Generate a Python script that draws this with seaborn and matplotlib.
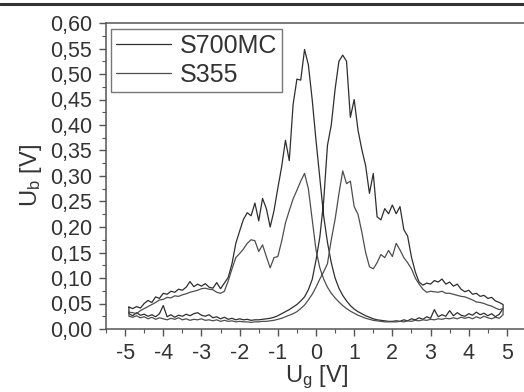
import pandas as pd
import matplotlib.pyplot as plt
import seaborn as sns
from matplotlib.lines import Line2D
from matplotlib.ticker import MultipleLocator, FuncFormatter

# gate voltage sweep grid [V]
u_g = [-4.9, -4.8, -4.7, -4.6, -4.5, -4.4, -4.3, -4.2, -4.1, -4.0,
       -3.9, -3.8, -3.7, -3.6, -3.5, -3.4, -3.3, -3.2, -3.1, -3.0,
       -2.9, -2.8, -2.7, -2.6, -2.5, -2.4, -2.3, -2.2, -2.1, -2.0,
       -1.9, -1.8, -1.7, -1.6, -1.5, -1.4, -1.3, -1.2, -1.1, -1.0,
       -0.9, -0.8, -0.7, -0.6, -0.5, -0.4, -0.3, -0.2, -0.1, 0.0,
       0.1, 0.2, 0.3, 0.4, 0.5, 0.6, 0.7, 0.8, 0.9, 1.0,
       1.1, 1.2, 1.3, 1.4, 1.5, 1.6, 1.7, 1.8, 1.9, 2.0,
       2.1, 2.2, 2.3, 2.4, 2.5, 2.6, 2.7, 2.8, 2.9, 3.0,
       3.1, 3.2, 3.3, 3.4, 3.5, 3.6, 3.7, 3.8, 3.9, 4.0,
       4.1, 4.2, 4.3, 4.4, 4.5, 4.6, 4.7, 4.8, 4.9]

# S700MC, sweep up (-5 -> 5)
s700_up = [0.043, 0.040, 0.044, 0.041, 0.050, 0.056, 0.052, 0.063, 0.060, 0.070,
           0.068, 0.074, 0.072, 0.078, 0.076, 0.082, 0.093, 0.083, 0.088, 0.084,
           0.089, 0.082, 0.080, 0.091, 0.079, 0.090, 0.101, 0.128, 0.168, 0.192,
           0.215, 0.228, 0.222, 0.247, 0.212, 0.256, 0.236, 0.200, 0.232, 0.276,
           0.318, 0.370, 0.330, 0.440, 0.490, 0.488, 0.548, 0.518, 0.450, 0.370,
           0.295, 0.222, 0.170, 0.130, 0.100, 0.080, 0.066, 0.055, 0.046, 0.039,
           0.034, 0.030, 0.026, 0.023, 0.020, 0.018, 0.017, 0.016, 0.015, 0.015,
           0.016, 0.015, 0.018, 0.016, 0.020, 0.018, 0.022, 0.019, 0.024, 0.021,
           0.038, 0.024, 0.028, 0.025, 0.036, 0.026, 0.032, 0.027, 0.025, 0.030,
           0.027, 0.033, 0.028, 0.031, 0.026, 0.030, 0.024, 0.029, 0.040]

# S700MC, sweep down (5 -> -5), listed on the same grid
s700_down = [0.030, 0.026, 0.032, 0.027, 0.029, 0.025, 0.028, 0.024, 0.030, 0.046,
             0.024, 0.028, 0.023, 0.027, 0.025, 0.029, 0.026, 0.030, 0.032, 0.027,
             0.025, 0.028, 0.022, 0.024, 0.020, 0.023, 0.019, 0.021, 0.018, 0.020,
             0.018, 0.019, 0.017, 0.018, 0.018, 0.019, 0.020, 0.021, 0.023, 0.026,
             0.030, 0.034, 0.038, 0.043, 0.048, 0.055, 0.063, 0.077, 0.097, 0.135,
             0.180, 0.250, 0.360, 0.400, 0.470, 0.525, 0.537, 0.525, 0.415, 0.450,
             0.390, 0.352, 0.320, 0.266, 0.305, 0.220, 0.214, 0.236, 0.226, 0.243,
             0.226, 0.240, 0.195, 0.182, 0.141, 0.112, 0.092, 0.086, 0.090, 0.088,
             0.095, 0.092, 0.098, 0.088, 0.092, 0.084, 0.088, 0.078, 0.073, 0.076,
             0.068, 0.070, 0.064, 0.066, 0.060, 0.062, 0.055, 0.052, 0.048]

# S355, sweep up
s355_up = [0.033, 0.032, 0.030, 0.036, 0.040, 0.044, 0.048, 0.052, 0.057, 0.058,
           0.062, 0.061, 0.065, 0.064, 0.067, 0.069, 0.072, 0.074, 0.076, 0.079,
           0.080, 0.078, 0.077, 0.072, 0.070, 0.074, 0.094, 0.118, 0.140, 0.148,
           0.157, 0.168, 0.175, 0.173, 0.152, 0.165, 0.142, 0.120, 0.140, 0.142,
           0.172, 0.208, 0.232, 0.255, 0.272, 0.290, 0.305, 0.275, 0.215, 0.155,
           0.120, 0.098, 0.082, 0.070, 0.061, 0.053, 0.046, 0.040, 0.035, 0.031,
           0.027, 0.024, 0.021, 0.019, 0.017, 0.016, 0.015, 0.014, 0.014, 0.014,
           0.014, 0.015, 0.014, 0.016, 0.015, 0.017, 0.016, 0.018, 0.017, 0.019,
           0.018, 0.020, 0.019, 0.021, 0.020, 0.022, 0.020, 0.023, 0.021, 0.023,
           0.020, 0.024, 0.021, 0.025, 0.022, 0.020, 0.023, 0.021, 0.028]

# S355, sweep down
s355_down = [0.025, 0.023, 0.026, 0.022, 0.024, 0.020, 0.023, 0.019, 0.022, 0.020,
             0.018, 0.021, 0.019, 0.022, 0.018, 0.020, 0.017, 0.019, 0.018, 0.020,
             0.017, 0.018, 0.016, 0.018, 0.015, 0.017, 0.015, 0.016, 0.014, 0.015,
             0.014, 0.014, 0.013, 0.014, 0.014, 0.015, 0.015, 0.016, 0.017, 0.019,
             0.021, 0.024, 0.027, 0.030, 0.034, 0.040, 0.047, 0.057, 0.068, 0.082,
             0.098, 0.112, 0.128, 0.175, 0.215, 0.265, 0.310, 0.285, 0.290, 0.240,
             0.225, 0.190, 0.150, 0.122, 0.118, 0.130, 0.146, 0.140, 0.154, 0.142,
             0.168, 0.155, 0.140, 0.130, 0.118, 0.100, 0.088, 0.078, 0.072, 0.074,
             0.073, 0.072, 0.074, 0.070, 0.070, 0.068, 0.066, 0.064, 0.063, 0.060,
             0.057, 0.053, 0.052, 0.050, 0.047, 0.045, 0.041, 0.038, 0.040]

samples = ["S700MC", "S355"]
colors = ["#2e2e2e", "#4e4e4e"]


def loop(name, up, down):
    # up sweep, then back down, closed at the start
    x = u_g + u_g[::-1] + u_g[:1]
    y = up + down[::-1] + up[:1]
    return pd.DataFrame({"U_g": x, "U_b": y, "sample": name})


df = pd.concat([loop("S700MC", s700_up, s700_down),
                loop("S355", s355_up, s355_down)], ignore_index=True)

sns.set_style("ticks")
plt.rcParams["font.family"] = ["Liberation Sans", "DejaVu Sans"]
plt.rcParams["mathtext.default"] = "regular"
plt.rcParams["axes.unicode_minus"] = False

txt = "#333333"
fig = plt.figure(figsize=(5.24, 3.92), dpi=100)
ax = fig.add_axes([106 / 524, 1 - 329 / 392, 420 / 524, 306 / 392])

sns.lineplot(data=df, x="U_g", y="U_b", hue="sample", hue_order=samples,
             palette=colors, sort=False, estimator=None, lw=0.9, ax=ax)

ax.set_xlim(-5.5, 5.5)
ax.set_ylim(0, 0.6)
ax.xaxis.set_major_locator(MultipleLocator(1))
ax.xaxis.set_minor_locator(MultipleLocator(0.5))
ax.yaxis.set_major_locator(MultipleLocator(0.05))
ax.yaxis.set_minor_locator(MultipleLocator(0.025))
ax.yaxis.set_major_formatter(FuncFormatter(lambda v, p: f"{v:.2f}".replace(".", ",")))
ax.xaxis.set_major_formatter(FuncFormatter(lambda v, p: f"{v:.0f}"))

for s in ["left", "bottom", "top"]:
    ax.spines[s].set_color("#555555")
    ax.spines[s].set_linewidth(1.1)
ax.spines["right"].set_visible(False)

ax.tick_params(which="major", direction="out", length=5, width=1, color="#555555",
               labelsize=15.5, labelcolor=txt, pad=5)
ax.tick_params(which="minor", direction="out", length=3, width=0.8, color="#555555")

ax.set_xlabel("U$_{g}$ [V]", fontsize=17, color=txt, labelpad=0)
ax.set_ylabel("U$_{b}$ [V]", fontsize=17, color=txt, labelpad=4)

leg = ax.legend(loc="upper left", bbox_to_anchor=(5 / 420, 1 - 6 / 306), borderaxespad=0,
                fontsize=18, frameon=True, fancybox=False, edgecolor="#555555",
                handlelength=2.2, handletextpad=0.35, labelspacing=0.2,
                borderpad=0.2, title=None)
leg.get_frame().set_linewidth(1.0)
for t in leg.get_texts():
    t.set_color(txt)
for h in leg.get_lines():
    h.set_linewidth(0.9)

# dark rule along the top of the picture
fig.add_artist(Line2D([0, 1], [1 - 3.5 / 392, 1 - 3.5 / 392], color="#333333",
                      lw=2.2, transform=fig.transFigure))

fig.savefig("out.png", dpi=100)
